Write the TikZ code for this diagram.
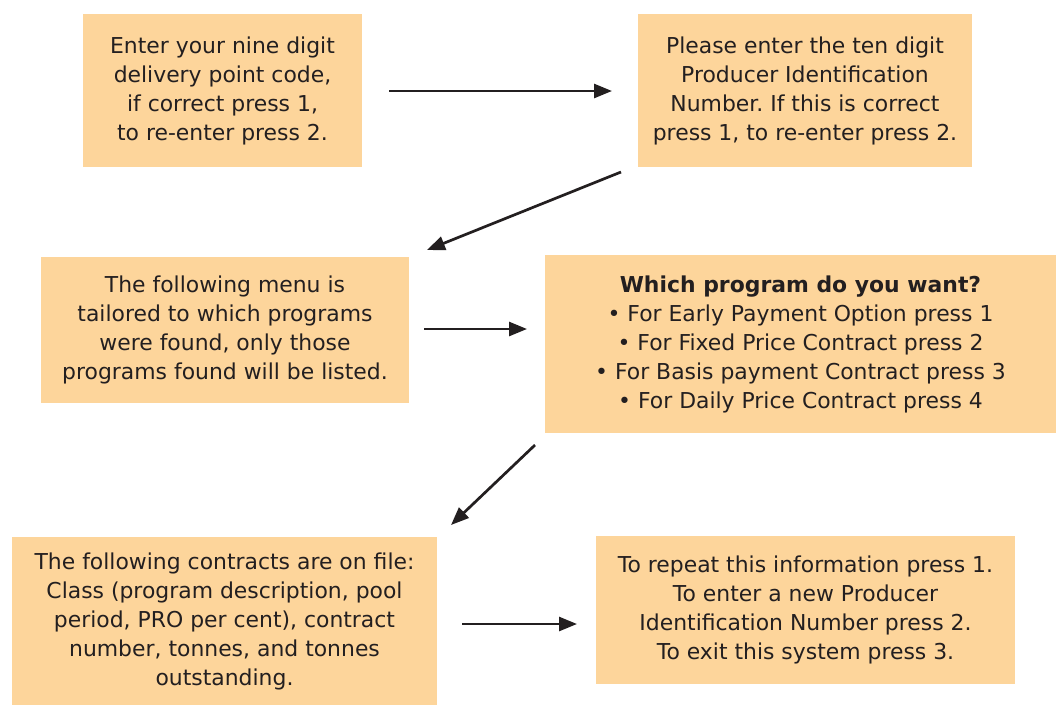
\documentclass[tikz,border=0pt]{standalone}
\usepackage{fontspec}
\setmainfont{DejaVu Sans}
\usetikzlibrary{arrows.meta}
\definecolor{boxfill}{HTML}{FDD59B}
\definecolor{ink}{HTML}{231F20}
\tikzset{
  box/.style={fill=boxfill, inner sep=0pt, align=center, text=ink,
    font=\fontsize{21.9}{29}\selectfont\frenchspacing},
  conn/.style={draw=ink, line width=2.7pt, -{Triangle[length=18pt,width=14pt]}},
}
\begin{document}
\begin{tikzpicture}[x=1pt,y=-1pt]
\useasboundingbox (0,0) rectangle (1057,705);
\node[box, minimum width=279pt, minimum height=153pt] (b1) at (222.5,90.5)
  {Enter your nine digit\\delivery point code,\\if correct press 1,\\to re-enter press 2.};
\node[box, minimum width=334pt, minimum height=153pt] (b2) at (805,90.5)
  {Please enter the ten digit\\Producer Identification\\Number. If this is correct\\press 1, to re-enter press 2.};
\node[box, minimum width=368pt, minimum height=146pt] (b3) at (225,330)
  {The following menu is\\tailored to which programs\\were found, only those\\programs found will be listed.};
\node[box, minimum width=511pt, minimum height=178pt] (b4) at (800.5,344)
  {\textbf{Which program do you want?}\\\textbullet{} For Early Payment Option press 1\\\textbullet{} For Fixed Price Contract press 2\\\textbullet{} For Basis payment Contract press 3\\\textbullet{} For Daily Price Contract press 4};
\node[box, minimum width=425pt, minimum height=168pt] (b5) at (224.5,621)
  {The following contracts are on file:\\Class (program description, pool\\period, PRO per cent), contract\\number, tonnes, and tonnes\\outstanding.};
\node[box, minimum width=419pt, minimum height=148pt] (b6) at (805.5,610)
  {To repeat this information press 1.\\To enter a new Producer\\Identification Number press 2.\\To exit this system press 3.};
\coordinate (a1s) at (389,91);  \coordinate (a1e) at (612,91);
\coordinate (a2s) at (621,172); \coordinate (a2e) at (427,250);
\coordinate (a3s) at (424,329); \coordinate (a3e) at (527,329);
\coordinate (a4s) at (535,445); \coordinate (a4e) at (451,525);
\coordinate (a5s) at (462,624); \coordinate (a5e) at (577,624);
\draw[conn] (a1s) -- (a1e);
\draw[conn] (a2s) -- (a2e);
\draw[conn] (a3s) -- (a3e);
\draw[conn] (a4s) -- (a4e);
\draw[conn] (a5s) -- (a5e);
\end{tikzpicture}
\end{document}
